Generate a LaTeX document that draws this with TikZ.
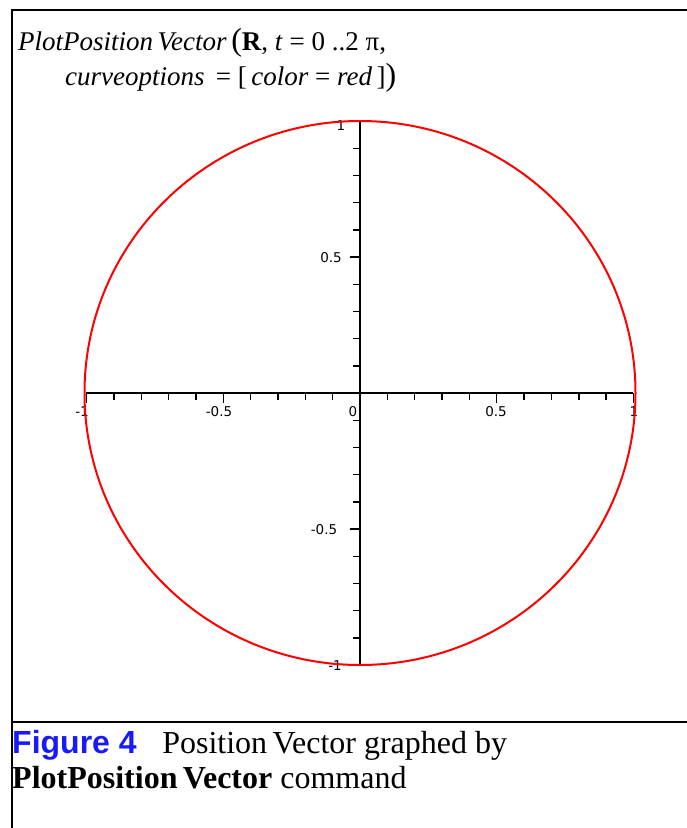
\documentclass[tikz,border=0pt]{standalone}
\usepackage{fontspec}
\setmainfont{Liberation Serif}
\setsansfont{Liberation Sans}
\newfontfamily\tickfont{DejaVu Sans}
\usepackage{tikz}
\usetikzlibrary{positioning,calc}
\definecolor{figblue}{RGB}{25,25,255}

\begin{document}
\begin{tikzpicture}[
    x=1pt, y=-1pt,
    axis/.style={line width=2pt, black},
    tick/.style={line width=1.4pt, black},
    ticklabel/.style={font=\tickfont\fontsize{13.5}{13.5}\selectfont, inner sep=1pt},
    curve/.style={red, line width=2pt},
    frameline/.style={line width=2.5pt},
    txt/.style={anchor=base west, inner sep=0pt, font=\fontsize{27}{27}\selectfont},
    captxt/.style={anchor=base west, inner sep=0pt, font=\fontsize{32}{32}\selectfont}
]
    \useasboundingbox (0,0) rectangle (687,828);

    % frame of the figure
    \draw[frameline] (12,828) -- (12,10) -- (687,10);
    \draw[frameline] (12,722) -- (687,722);

    % command
    \node[txt] (cmd1) at (18,50) {\textit{PlotPosition\,Vector}\,{\fontsize{32}{32}\selectfont(}\textbf{R}, \textit{t} = 0 ..2 π,};
    \node[txt] (cmd2) at (65,85) {\textit{curveoptions} \,= [\,\textit{color} = \textit{red}\,]{\fontsize{32}{32}\selectfont)}};

    % axes
    \coordinate (O) at (360,393);
    \coordinate (xmin) at (86,393);
    \coordinate (xmax) at (633,393);
    \coordinate (ymax) at (360,121);
    \coordinate (ymin) at (360,665);
    \draw[axis] (xmin) -- (xmax);
    \draw[axis] (ymax) -- (ymin);

    \foreach \i in {-10,...,10} {
        \pgfmathsetmacro{\len}{ifthenelse(mod(abs(\i),5)==0,10,7)}
        \draw[tick] ($(O)+(27.35*\i,0)$) -- ++(0,\len);
        \draw[tick] ($(O)+(0,27.2*\i)$) -- ++(-\len,0);
    }

    % tick labels
    \node[ticklabel] (xm1) at (82,412) {-1};
    \node[ticklabel] (xmh) at (219,412) {-0.5};
    \node[ticklabel] (x0) at (353,412) {0};
    \node[ticklabel] (xh) at (496,412) {0.5};
    \node[ticklabel] (x1) at (634,412) {1};
    \node[ticklabel] (y1) at (341,126) {1};
    \node[ticklabel] (yh) at (331,258) {0.5};
    \node[ticklabel] (ymh) at (324,530) {-0.5};
    \node[ticklabel] (ym1) at (335,666) {-1};

    % curve
    \draw[curve] (O) circle [x radius=275.5, y radius=272];

    % caption
    \node[captxt] (cap1) at (12,753) {{\sffamily\bfseries\color{figblue}Figure 4}\hspace{0.8em}Position\,Vector graphed by};
    \node[captxt] (cap2) at (12,788) {\textbf{PlotPosition\,Vector} command};
\end{tikzpicture}
\end{document}
